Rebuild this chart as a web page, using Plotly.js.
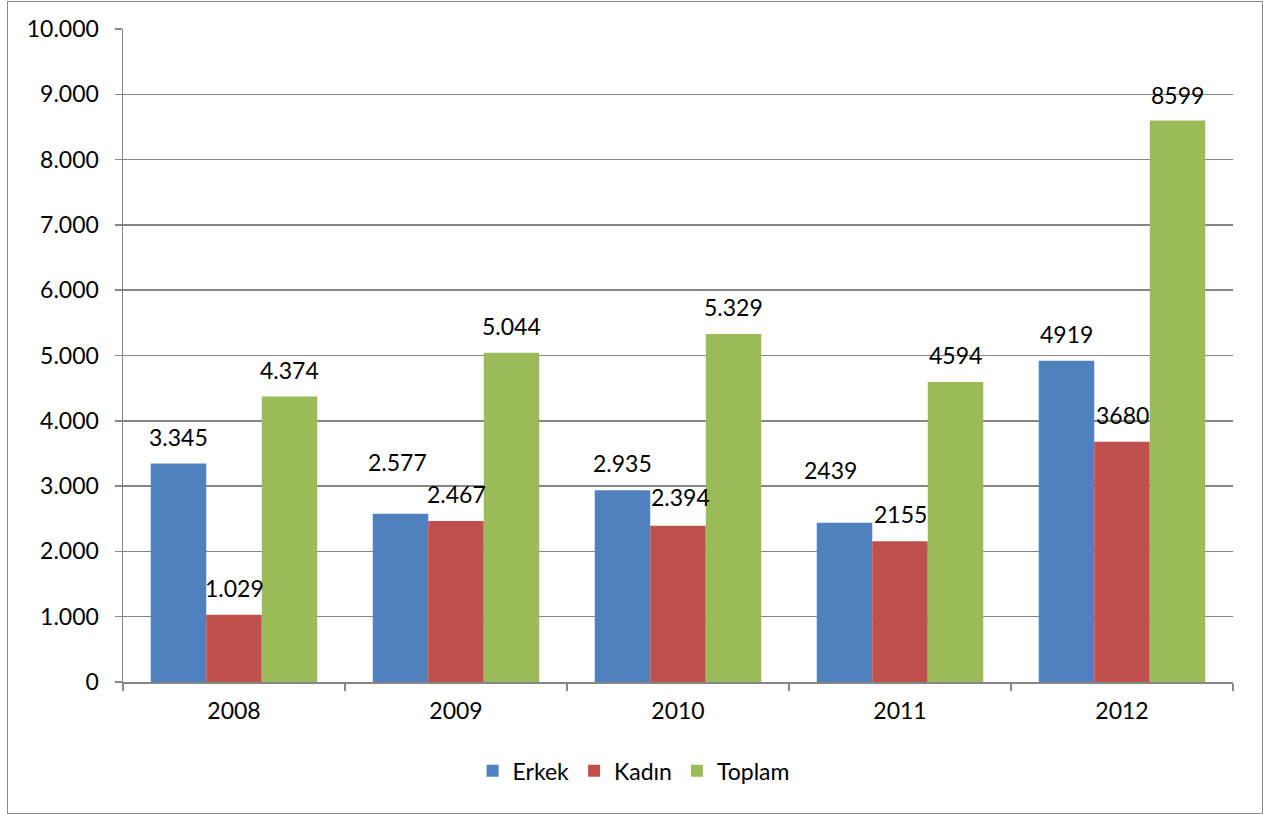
<!DOCTYPE html>
<html>
<head>
<meta charset="utf-8">
<script src="https://cdn.plot.ly/plotly-3.0.1.min.js"></script>
<style>
  html, body { margin: 0; padding: 0; background: #fff; }
  #chart { position: absolute; left: 0; top: 0; width: 1263px; height: 814px; }
  #frame { position: absolute; left: 7px; top: 1px; width: 1254px; height: 811px;
           border: 1px solid #8a8a8a; pointer-events: none; }
</style>
</head>
<body>
<div id="chart"></div>
<div id="frame"></div>
<script>
// ---- data ----
const years = ["2008", "2009", "2010", "2011", "2012"];
const erkek = [3345, 2577, 2935, 2439, 4919];
const kadin = [1029, 2467, 2394, 2155, 3680];
const toplam = [4374, 5044, 5329, 4594, 8599];
const erkekLabels = ["3.345", "2.577", "2.935", "2439", "4919"];
const kadinLabels = ["1.029", "2.467", "2.394", "2155", "3680"];
const toplamLabels = ["4.374", "5.044", "5.329", "4594", "8599"];
const seriesNames = ["Erkek", "Kadın", "Toplam"];

// ---- style ----
const colors = ["#4F81BD", "#C0504D", "#9BBB59"];
const FONT = "Lato, 'Noto Sans', sans-serif";
const barPx = 55.5;
const labelShift = 27;
// per-label nudges (series index, category index) -> [dx, dy]
const nudges = { "0,1": [-3, 25], "0,3": [-14, 26], "1,2": [2, 2], "2,0": [0, -1], "2,4": [0, -2] };

const values = [erkek, kadin, toplam];
const labels = [erkekLabels, kadinLabels, toplamLabels];

const traces = values.map((v, i) => ({
  type: "bar",
  name: seriesNames[i],
  x: years,
  y: v,
  marker: { color: colors[i], line: { width: 0 } },
  hoverinfo: "skip"
}));

const annotations = [];
values.forEach((v, i) => {
  v.forEach((val, j) => {
    const n = nudges[i + "," + j] || [0, 0];
    annotations.push({
      x: j, y: val, xref: "x", yref: "y",   // j = category index on the category axis
      text: labels[i][j], showarrow: false,
      xanchor: "center", yanchor: "middle",
      xshift: (i - 1) * barPx + n[0],
      yshift: labelShift + n[1],
      font: { family: FONT, size: 23, color: "#000" }
    });
  });
});

const layout = {
  width: 1263, height: 814,
  margin: { l: 123, r: 30, t: 29, b: 132, pad: 0 },
  paper_bgcolor: "#fff", plot_bgcolor: "#fff",
  separators: ",.",
  barmode: "group",
  bargap: 0.25,
  bargroupgap: 0,
  font: { family: FONT, size: 23, color: "#000" },
  xaxis: {
    type: "category",
    categoryorder: "array", categoryarray: years,
    range: [-0.5, years.length - 0.5],
    showline: true, linecolor: "#868686", linewidth: 1.5,
    ticks: "outside", tickson: "boundaries", ticklen: 7, tickcolor: "#868686", tickwidth: 1.5,
    showgrid: false, zeroline: false,
    tickangle: 0,
    tickfont: { family: FONT, size: 23, color: "#000" },
    ticklabelstandoff: 8
  },
  yaxis: {
    range: [0, 10000], dtick: 1000, tick0: 0,
    tickformat: ",d",
    showline: true, linecolor: "#868686", linewidth: 1.5,
    ticks: "outside", ticklen: 7, tickcolor: "#868686", tickwidth: 1.5,
    showgrid: true, gridcolor: "#868686", gridwidth: 1.5,
    zeroline: false,
    tickfont: { family: FONT, size: 23, color: "#000" },
    ticklabelstandoff: 11
  },
  legend: {
    orientation: "h",
    x: 0.46, xanchor: "center",
    y: -0.136, yanchor: "middle",
    font: { family: FONT, size: 23, color: "#000" },
    itemwidth: 30,
    traceorder: "normal"
  },
  annotations: annotations,
  showlegend: true
};

Plotly.newPlot("chart", traces, layout, { displayModeBar: false, staticPlot: true });
</script>
</body>
</html>
